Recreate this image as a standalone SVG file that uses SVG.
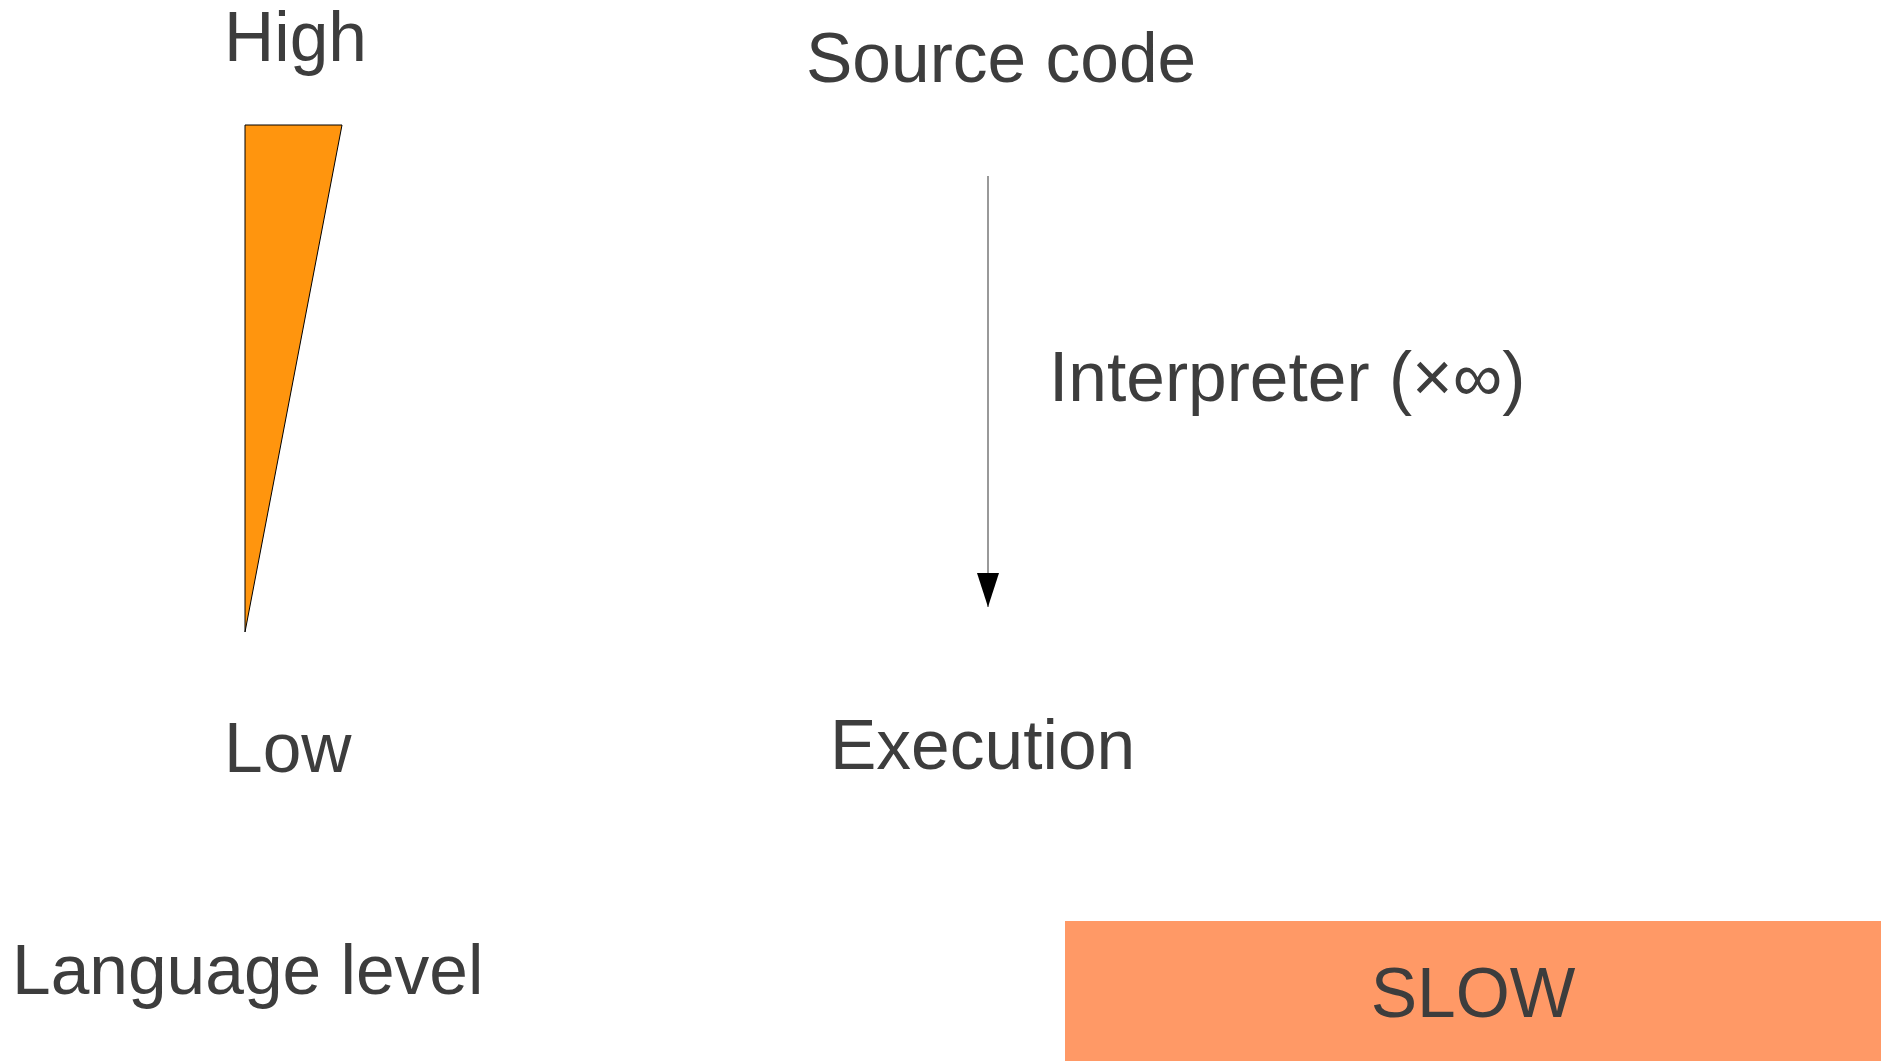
<svg xmlns="http://www.w3.org/2000/svg" width="1886" height="1061" viewBox="0 0 1886 1061">
<style>
.t{font-family:"Liberation Sans",Arial,sans-serif;font-size:69.5px;fill:#3d3d3d}
.c{stroke:#555555;stroke-width:1.2;fill:none}
</style>
<defs>
<marker id="ah" markerUnits="userSpaceOnUse" markerWidth="34" markerHeight="22" refX="34" refY="11" orient="auto" viewBox="0 0 34 22">
<path d="M0,0 L34,11 L0,22 z" fill="#000"/>
</marker>
</defs>
<rect width="1886" height="1061" fill="#fff"/>
<g id="high"><text class="t" x="224" y="61">High</text></g>
<g id="wedge"><polygon points="245,125 342,125 245,632" fill="#ff950e" stroke="#000" stroke-width="1"/></g>
<g id="low"><text class="t" x="224" y="772">Low</text></g>
<g id="source"><text class="t" x="806" y="82">Source code</text></g>
<g id="interp"><text class="t" x="1049" y="401">Interpreter (×∞)</text></g>
<g id="exec"><text class="t" x="830" y="769">Execution</text></g>
<g id="langlevel"><text class="t" x="12" y="994">Language level</text></g>
<g id="slow"><rect x="1065" y="921" width="816" height="150" fill="#ff9966"/><text class="t" x="1473" y="1017" text-anchor="middle">SLOW</text></g>
<g id="connectors"><line class="c" x1="988" y1="176" x2="988" y2="607" marker-end="url(#ah)"/></g>
</svg>
